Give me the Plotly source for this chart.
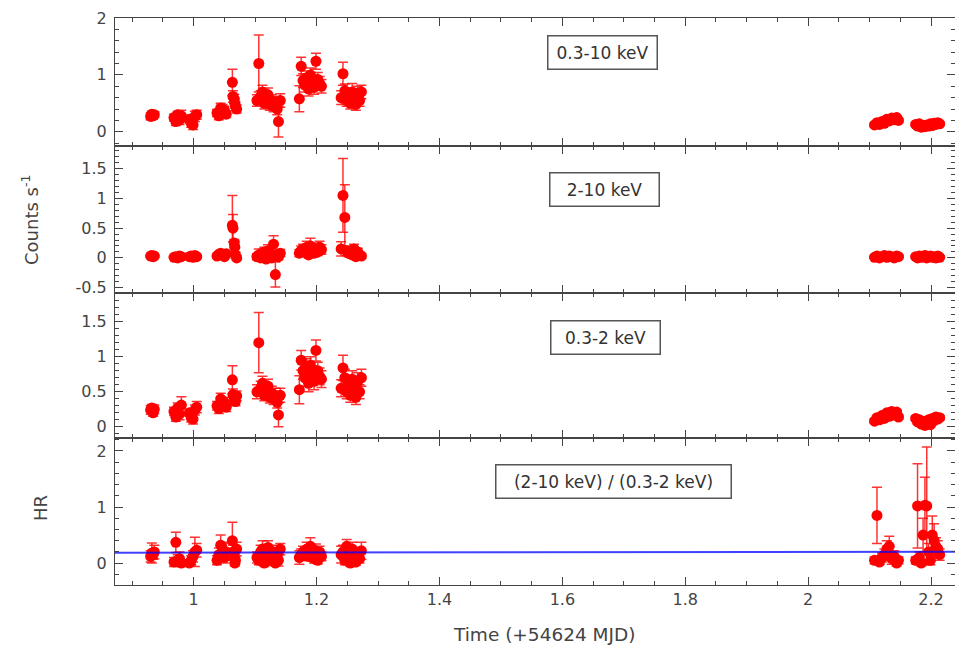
import plotly.graph_objects as go

# ---------------- data ----------------
t = [0.930, 0.932, 0.934, 0.936,
     0.968, 0.971, 0.974, 0.977, 0.980,
     0.993, 0.996, 0.999, 1.002, 1.005,
     1.038, 1.041, 1.044, 1.047, 1.050, 1.053,
     1.063, 1.064, 1.066, 1.067, 1.068, 1.070,
     1.103, 1.106, 1.109, 1.112, 1.115, 1.118, 1.121, 1.124, 1.127, 1.130, 1.133, 1.136, 1.138, 1.141,
     1.172, 1.175, 1.178, 1.181, 1.184, 1.187, 1.190, 1.193, 1.196, 1.199, 1.202, 1.205, 1.208,
     1.240, 1.243, 1.246, 1.249, 1.252, 1.255, 1.258, 1.261, 1.264, 1.267, 1.270, 1.273,
     2.108, 2.112, 2.116, 2.120, 2.124, 2.128, 2.132, 2.136, 2.140, 2.144, 2.147,
     2.175, 2.178, 2.181, 2.184, 2.187, 2.190, 2.193, 2.196, 2.199, 2.202, 2.205, 2.208, 2.211, 2.214]

total = [0.27, 0.31, 0.28, 0.30,
         0.25, 0.18, 0.30, 0.21, 0.28,
         0.22, 0.15, 0.12, 0.27, 0.30,
         0.33, 0.28, 0.42, 0.36, 0.38, 0.31,
         0.87, 0.62, 0.58, 0.50, 0.45, 0.40,
         0.55, 1.20, 0.62, 0.70, 0.50, 0.58, 0.65, 0.48, 0.55, 0.45, 0.50, 0.40, 0.18, 0.55,
         0.58, 1.15, 0.90, 0.82, 0.95, 0.75, 1.00, 0.88, 0.78, 1.24, 0.92, 0.85, 0.80,
         0.60, 1.02, 0.72, 0.55, 0.65, 0.50, 0.70, 0.60, 0.48, 0.68, 0.55, 0.70,
         0.12, 0.16, 0.13, 0.18, 0.15, 0.22, 0.19, 0.24, 0.21, 0.25, 0.20,
         0.13, 0.10, 0.14, 0.08, 0.11, 0.09, 0.12, 0.10, 0.14, 0.11, 0.15, 0.13, 0.16, 0.14]
total_err = [0.06, 0.05, 0.06, 0.05,
             0.06, 0.07, 0.06, 0.08, 0.10,
             0.06, 0.07, 0.08, 0.09, 0.08,
             0.06, 0.07, 0.08, 0.12, 0.07, 0.06,
             0.23, 0.10, 0.08, 0.08, 0.08, 0.07,
             0.10, 0.50, 0.10, 0.12, 0.10, 0.10, 0.12, 0.10, 0.10, 0.10, 0.12, 0.10, 0.27, 0.12,
             0.23, 0.16, 0.12, 0.12, 0.12, 0.12, 0.12, 0.12, 0.12, 0.14, 0.12, 0.12, 0.12,
             0.12, 0.20, 0.12, 0.10, 0.12, 0.10, 0.15, 0.12, 0.10, 0.12, 0.10, 0.12,
             0.03, 0.03, 0.03, 0.03, 0.03, 0.03, 0.03, 0.03, 0.03, 0.03, 0.03,
             0.03, 0.03, 0.03, 0.03, 0.03, 0.03, 0.03, 0.03, 0.03, 0.03, 0.03, 0.03, 0.03, 0.03]

hard = [0.03, 0.04, 0.02, 0.03,
        0.01, 0.02, 0.00, 0.03, 0.02,
        0.02, 0.03, 0.01, 0.04, 0.02,
        0.03, 0.06, 0.08, 0.05, 0.02, 0.07,
        0.55, 0.50, 0.25, 0.18, 0.05, 0.00,
        0.02, 0.05, 0.00, 0.08, 0.10, -0.02, 0.12, 0.04, 0.00, 0.23, -0.28, 0.06, 0.02, 0.08,
        0.08, 0.12, 0.15, 0.10, 0.18, 0.05, 0.20, 0.12, 0.08, 0.15, 0.10, 0.18, 0.14,
        0.15, 1.05, 0.68, 0.12, 0.08, 0.10, 0.05, 0.15, 0.02, 0.10, 0.05, 0.03,
        0.01, 0.03, 0.00, 0.02, 0.04, 0.01, 0.03, 0.02, 0.00, 0.03, 0.02,
        0.02, 0.00, 0.03, 0.01, 0.02, 0.04, 0.00, 0.02, 0.03, 0.01, 0.02, 0.00, 0.03, 0.01]
hard_err = [0.02, 0.02, 0.02, 0.02,
            0.02, 0.02, 0.02, 0.02, 0.02,
            0.02, 0.02, 0.02, 0.02, 0.02,
            0.03, 0.03, 0.03, 0.03, 0.03, 0.03,
            0.50, 0.23, 0.06, 0.10, 0.05, 0.04,
            0.05, 0.10, 0.05, 0.06, 0.08, 0.05, 0.10, 0.05, 0.05, 0.14, 0.21, 0.06, 0.05, 0.06,
            0.06, 0.08, 0.08, 0.06, 0.10, 0.05, 0.13, 0.08, 0.06, 0.10, 0.06, 0.10, 0.08,
            0.12, 0.62, 0.55, 0.08, 0.06, 0.08, 0.05, 0.08, 0.04, 0.06, 0.05, 0.04,
            0.02, 0.02, 0.02, 0.02, 0.02, 0.02, 0.02, 0.02, 0.02, 0.02, 0.02,
            0.02, 0.02, 0.02, 0.02, 0.02, 0.02, 0.02, 0.02, 0.02, 0.02, 0.02, 0.02, 0.02, 0.02]

soft = [0.24, 0.27, 0.20, 0.25,
        0.22, 0.14, 0.27, 0.18, 0.31,
        0.20, 0.13, 0.11, 0.24, 0.28,
        0.30, 0.26, 0.40, 0.33, 0.35, 0.28,
        0.67, 0.46, 0.42, 0.38, 0.36, 0.44,
        0.50, 1.20, 0.55, 0.62, 0.45, 0.50, 0.58, 0.42, 0.48, 0.40, 0.45, 0.35, 0.17, 0.45,
        0.53, 0.95, 0.80, 0.70, 0.85, 0.62, 0.88, 0.75, 0.65, 1.09, 0.80, 0.72, 0.68,
        0.55, 0.84, 0.70, 0.50, 0.62, 0.45, 0.68, 0.58, 0.42, 0.65, 0.50, 0.70,
        0.08, 0.13, 0.10, 0.16, 0.12, 0.20, 0.15, 0.22, 0.17, 0.21, 0.14,
        0.12, 0.07, 0.10, 0.04, 0.08, 0.02, 0.06, 0.10, 0.03, 0.12, 0.09, 0.14, 0.11, 0.13]
soft_err = [0.06, 0.05, 0.05, 0.06,
            0.06, 0.06, 0.07, 0.08, 0.12,
            0.05, 0.06, 0.07, 0.07, 0.08,
            0.06, 0.07, 0.08, 0.08, 0.07, 0.06,
            0.20, 0.08, 0.07, 0.06, 0.06, 0.07,
            0.10, 0.43, 0.10, 0.10, 0.08, 0.10, 0.10, 0.08, 0.10, 0.08, 0.10, 0.08, 0.17, 0.10,
            0.20, 0.14, 0.12, 0.12, 0.12, 0.12, 0.12, 0.12, 0.12, 0.15, 0.12, 0.12, 0.12,
            0.12, 0.18, 0.12, 0.10, 0.12, 0.10, 0.12, 0.12, 0.10, 0.12, 0.10, 0.12,
            0.03, 0.03, 0.03, 0.03, 0.03, 0.03, 0.03, 0.03, 0.03, 0.03, 0.03,
            0.03, 0.03, 0.03, 0.03, 0.03, 0.03, 0.03, 0.03, 0.03, 0.03, 0.03, 0.03, 0.03, 0.03]

hr = [0.12, 0.18, 0.15, 0.20,
      0.02, 0.37, 0.05, 0.08, 0.00,
      0.00, 0.05, 0.12, 0.20, 0.23,
      0.05, 0.15, 0.32, 0.25, 0.10, 0.20,
      0.40, 0.20, 0.15, 0.00, 0.05, 0.25,
      0.10, 0.05, 0.20, 0.25, 0.00, 0.15, 0.28, 0.05, 0.10, 0.20, 0.00, 0.15, 0.05, 0.25,
      0.10, 0.15, 0.20, 0.18, 0.25, 0.12, 0.30, 0.15, 0.08, 0.22, 0.05, 0.20, 0.12,
      0.15, 0.20, 0.05, 0.30, 0.10, 0.00, 0.25, 0.12, 0.02, 0.18, 0.08, 0.22,
      0.05, 0.85, 0.02, 0.10, 0.15, 0.25, 0.30, 0.08, 0.12, 0.00, 0.05,
      0.05, 1.02, 0.10, 0.00, 0.50, 1.03, 1.02, 0.20, 0.05, 0.50, 0.40, 0.30, 0.25, 0.15]
hr_err = [0.10, 0.18, 0.08, 0.12,
          0.08, 0.18, 0.10, 0.12, 0.06,
          0.05, 0.08, 0.10, 0.26, 0.12,
          0.08, 0.12, 0.18, 0.12, 0.10, 0.15,
          0.33, 0.12, 0.10, 0.05, 0.06, 0.12,
          0.10, 0.08, 0.12, 0.15, 0.06, 0.12, 0.12, 0.08, 0.10, 0.12, 0.05, 0.10, 0.10, 0.10,
          0.12, 0.10, 0.10, 0.10, 0.12, 0.08, 0.15, 0.10, 0.08, 0.12, 0.06, 0.10, 0.08,
          0.15, 0.12, 0.08, 0.12, 0.10, 0.06, 0.12, 0.10, 0.06, 0.10, 0.08, 0.15,
          0.06, 0.50, 0.05, 0.08, 0.10, 0.15, 0.18, 0.10, 0.10, 0.05, 0.06,
          0.06, 0.75, 0.10, 0.05, 0.30, 0.50, 1.05, 0.15, 0.08, 0.34, 0.30, 0.15, 0.15, 0.10]

fit_t = [0.85, 2.26]
fit_hr = [0.185, 0.205]

panel_labels = ["0.3-10 keV", "2-10 keV", "0.3-2 keV", "(2-10 keV) / (0.3-2 keV)"]

# ---------------- figure ----------------
W, H = 955, 648
ML, MR, MT, MB = 115, 0, 18, 63
PW, PH = W - ML - MR, H - MT - MB
panel_px = [(18, 146), (146, 293), (293, 438), (438, 585)]   # top, bottom in pixels

def py(p):
    return (H - MB - p) / PH

def px(p):
    return (p - ML) / PW

AX = "#444444"
RED = "#ff0000"
series = [(total, total_err), (hard, hard_err), (soft, soft_err), (hr, hr_err)]

fig = go.Figure()
for i, (vals, errs) in enumerate(series):
    sfx = "" if i == 0 else str(i + 1)
    fig.add_trace(go.Scatter(
        x=t, y=vals, mode="markers",
        marker=dict(color=RED, size=11, line=dict(width=0)),
        error_y=dict(type="data", array=errs, visible=True,
                     color="rgba(255,0,0,0.8)", thickness=1.5, width=5),
        xaxis="x" + sfx, yaxis="y" + sfx, showlegend=False, hoverinfo="x+y"))

fig.add_trace(go.Scatter(x=fit_t, y=fit_hr, mode="lines",
                         line=dict(color="rgba(0,0,255,0.75)", width=2),
                         xaxis="x4", yaxis="y4", showlegend=False))

yranges = [[-0.25, 2.0], [-0.59, 1.88], [-0.16, 1.91], [-0.39, 2.23]]
yminor = [0.2, 0.1, 0.1, 0.2]
ytickvals = [[0, 1, 2], [-0.5, 0, 0.5, 1, 1.5], [0, 0.5, 1, 1.5], [0, 1, 2]]
yticktext = [["0", "1", "2"], ["-0.5", "0", "0.5", "1", "1.5"], ["0", "0.5", "1", "1.5"], ["0", "1", "2"]]

common = dict(showline=True, linecolor=AX, linewidth=1, mirror="ticks",
              ticks="inside", tickcolor=AX, tickwidth=1.2, ticklen=8,
              showgrid=False, zeroline=False,
              tickfont=dict(family="DejaVu Sans", size=16, color=AX))

layout = {}
for i in range(4):
    sfx = "" if i == 0 else str(i + 1)
    top, bot = panel_px[i]
    layout["xaxis" + sfx] = dict(common, range=[0.872, 0.872 + PW / 614.5],
                                 anchor="y" + sfx, domain=[0, 1],
                                 dtick=0.2, tick0=0,
                                 minor=dict(dtick=0.05, tick0=0, ticks="inside",
                                            ticklen=4, tickcolor=AX, tickwidth=1),
                                 showticklabels=(i == 3),
                                 matches=None if i == 0 else "x")
    layout["yaxis" + sfx] = dict(common, range=yranges[i], anchor="x" + sfx,
                                 domain=[py(bot), py(top)],
                                 tickvals=ytickvals[i], ticktext=yticktext[i],
                                 ticklabelstandoff=4,
                                 minor=dict(dtick=yminor[i], tick0=0, ticks="inside",
                                            ticklen=4, tickcolor=AX, tickwidth=1))

box_centers = [(602, 52), (604, 189), (605.5, 337.5), (613.5, 481)]
box_widths = [104, 104, 104, 230]
annotations = []
for lab, (cx, cy), bw in zip(panel_labels, box_centers, box_widths):
    annotations.append(dict(text=lab, x=px(cx), y=py(cy), xref="paper", yref="paper",
                            xanchor="center", yanchor="middle", showarrow=False,
                            font=dict(family="DejaVu Sans", size=17, color="#333333"),
                            bordercolor="#555555", borderwidth=1.5, borderpad=2,
                            bgcolor="white", width=bw, height=28))

annotations.append(dict(text="Time (+54624 MJD)", x=px(544), y=py(634), xref="paper", yref="paper",
                        xanchor="center", yanchor="middle", showarrow=False,
                        font=dict(family="DejaVu Sans", size=18.5, color=AX)))
annotations.append(dict(text="Counts s<sup>-1</sup>", x=px(30), y=py(220), xref="paper", yref="paper",
                        xanchor="center", yanchor="middle", showarrow=False, textangle=-90,
                        font=dict(family="DejaVu Sans", size=18, color=AX)))
annotations.append(dict(text="HR", x=px(40), y=py(508), xref="paper", yref="paper",
                        xanchor="center", yanchor="middle", showarrow=False, textangle=-90,
                        font=dict(family="DejaVu Sans", size=18, color=AX)))

fig.update_layout(width=W, height=H, margin=dict(l=ML, r=MR, t=MT, b=MB),
                  paper_bgcolor="white", plot_bgcolor="white",
                  font=dict(family="DejaVu Sans"),
                  annotations=annotations, **layout)

fig.write_html("out.html")
